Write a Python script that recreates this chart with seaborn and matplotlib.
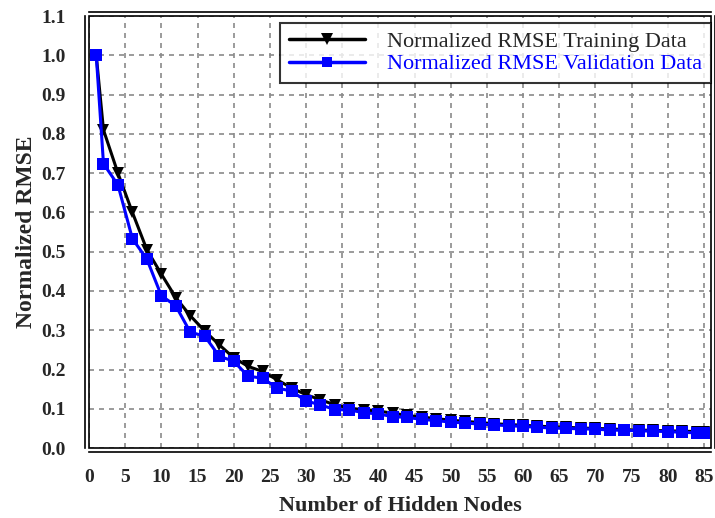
import numpy as np
import pandas as pd
import seaborn as sns
import matplotlib.pyplot as plt
from matplotlib.patches import Rectangle
from matplotlib.lines import Line2D

sns.set_style("white")
plt.rcParams["font.family"] = ["Liberation Serif", "DejaVu Serif"]

hidden_nodes = [1, 2, 4, 6, 8, 10, 12, 14, 16, 18, 20, 22, 24, 26, 28, 30, 32, 34,
                36, 38, 40, 42, 44, 46, 48, 50, 52, 54, 56, 58, 60, 62, 64, 66, 68,
                70, 72, 74, 76, 78, 80, 82, 84, 85]

rmse_training = [1.00, 0.81, 0.70, 0.60, 0.505, 0.443, 0.383, 0.337, 0.298, 0.263,
                 0.230, 0.208, 0.195, 0.174, 0.153, 0.136, 0.123, 0.110, 0.102, 0.097,
                 0.094, 0.089, 0.083, 0.079, 0.075, 0.071, 0.068, 0.065, 0.062, 0.060,
                 0.058, 0.056, 0.054, 0.053, 0.051, 0.050, 0.049, 0.047, 0.046, 0.045,
                 0.044, 0.043, 0.042, 0.041]

rmse_validation = [1.00, 0.724, 0.67, 0.533, 0.481, 0.388, 0.362, 0.295, 0.285, 0.234,
                   0.221, 0.183, 0.178, 0.153, 0.145, 0.120, 0.110, 0.098, 0.097, 0.090,
                   0.087, 0.080, 0.078, 0.073, 0.070, 0.066, 0.064, 0.061, 0.059, 0.057,
                   0.055, 0.053, 0.051, 0.050, 0.049, 0.048, 0.046, 0.045, 0.044, 0.043,
                   0.042, 0.040, 0.039, 0.039]

series_names = ["Normalized RMSE Training Data", "Normalized RMSE Validation Data"]
x_ticks = list(range(0, 86, 5))
y_ticks = [round(0.1 * i, 1) for i in range(12)]

df = pd.DataFrame({
    "nodes": hidden_nodes * 2,
    "rmse": rmse_training + rmse_validation,
    "series": [series_names[0]] * len(hidden_nodes) + [series_names[1]] * len(hidden_nodes),
})

fig = plt.figure(figsize=(7.15, 5.18), dpi=100)
ax = fig.add_axes([0.1245, 0.135, 0.870, 0.834])

palette = {series_names[0]: "black", series_names[1]: "#0000ff"}
markers = {series_names[0]: "v", series_names[1]: "s"}
sns.lineplot(data=df, x="nodes", y="rmse", hue="series", style="series",
             palette=palette, markers=markers, dashes=False, markersize=8,
             linewidth=2.2, markeredgewidth=0, ax=ax, legend=False, zorder=3)

ax.set_xlim(0, 86)
ax.set_ylim(0, 1.1)
ax.set_xticks(x_ticks)
ax.set_yticks(y_ticks)
ax.set_yticklabels([f"{v:.1f}" for v in y_ticks])

ax.grid(True, color="#8a8a8a", linestyle=(0, (3, 3)), linewidth=1.2)
ax.set_axisbelow(True)

# Double-line frame: spines pushed outward, a second line on the data bounds
for side in ["left", "bottom", "top", "right"]:
    ax.spines[side].set_position(("outward", 3))
    ax.spines[side].set_color("black")
    ax.spines[side].set_linewidth(1.2)
ax.add_patch(Rectangle((0, 0), 1, 1, transform=ax.transAxes, fill=False,
                       edgecolor="black", linewidth=1.2, clip_on=False, zorder=4))

ax.tick_params(axis="both", which="major", direction="out", length=7, width=1.3,
               color="black", labelsize=14)
ax.tick_params(axis="y", pad=7)
ax.tick_params(axis="x", pad=5)
ax.tick_params(top=False, right=False)
for lab in ax.get_xticklabels() + ax.get_yticklabels():
    lab.set_fontweight("bold")

ax.set_xlabel("Number of Hidden Nodes", fontsize=16, fontweight="bold", labelpad=7)
ax.set_ylabel("Normalized RMSE", fontsize=17, fontweight="bold", labelpad=3)

handles = [
    Line2D([], [], color="black", marker="v", markersize=8.5, linewidth=2.5, markeredgewidth=0),
    Line2D([], [], color="#0000ff", marker="s", markersize=6.5, linewidth=2.5, markeredgewidth=0),
]
leg = ax.legend(handles, series_names, loc="upper right", bbox_to_anchor=(1.0, 0.985),
                fontsize=16, frameon=True, fancybox=False, handlelength=3.4,
                borderpad=0.4, labelspacing=0.08, handletextpad=1.0, borderaxespad=0.0)
leg.get_frame().set_edgecolor("black")
leg.get_frame().set_linewidth(1.5)
leg.get_texts()[1].set_color("#0000ff")

fig.savefig("out.png", dpi=100)
